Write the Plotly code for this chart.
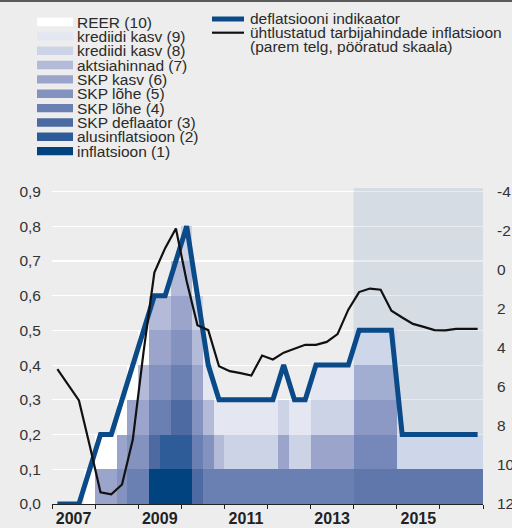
import plotly.graph_objects as go

# ---------------- data ----------------
quarters = ["2007Q1", "2007Q2", "2007Q3", "2007Q4", "2008Q1", "2008Q2", "2008Q3", "2008Q4",
            "2009Q1", "2009Q2", "2009Q3", "2009Q4", "2010Q1", "2010Q2", "2010Q3", "2010Q4",
            "2011Q1", "2011Q2", "2011Q3", "2011Q4", "2012Q1", "2012Q2", "2012Q3", "2012Q4",
            "2013Q1", "2013Q2", "2013Q3", "2013Q4", "2014Q1", "2014Q2", "2014Q3", "2014Q4",
            "2015Q1", "2015Q2", "2015Q3", "2015Q4", "2016Q1", "2016Q2", "2016Q3", "2016Q4"]

indicator_names = ["inflatsioon (1)", "alusinflatsioon (2)", "SKP deflaator (3)", "SKP lõhe (4)",
                   "SKP lõhe (5)", "SKP kasv (6)", "aktsiahinnad (7)", "krediidi kasv (8)",
                   "krediidi kasv (9)", "REER (10)"]
indicator_colors = ["#00437f", "#2e5c98", "#4d6aa2", "#6a80b2", "#8392bf",
                    "#9ba5cb", "#b3bbd8", "#cdd3e6", "#e4e7f1", "#ffffff"]

# signal flags per indicator (1 = signalling), one per quarter
#            2007        2008        2009        2010        2011        2012        2013        2014        2015        2016
sig_1  = [0, 0, 0, 0, 0, 0, 0, 0, 0, 1, 1, 1, 1, 0, 0, 0, 0, 0, 0, 0, 0, 0, 0, 0, 0, 0, 0, 0, 0, 0, 0, 0, 0, 0, 0, 0, 0, 0, 0, 0]
sig_2  = [0, 0, 0, 0, 0, 0, 0, 0, 0, 0, 1, 1, 1, 0, 0, 0, 0, 0, 0, 0, 0, 0, 0, 0, 0, 0, 0, 0, 0, 0, 0, 0, 0, 0, 0, 0, 0, 0, 0, 0]
sig_3  = [0, 0, 0, 0, 0, 0, 0, 0, 0, 1, 0, 1, 1, 1, 0, 0, 0, 0, 0, 0, 0, 0, 0, 0, 0, 0, 0, 0, 0, 0, 0, 0, 0, 0, 0, 0, 0, 0, 0, 0]
sig_4  = [0, 0, 0, 0, 0, 0, 0, 1, 1, 1, 1, 1, 1, 1, 1, 1, 1, 1, 1, 1, 1, 1, 1, 1, 1, 1, 1, 1, 1, 1, 1, 1, 1, 1, 1, 1, 1, 1, 1, 1]
sig_5  = [0, 0, 0, 0, 0, 0, 1, 1, 1, 1, 1, 1, 1, 1, 1, 0, 0, 0, 0, 0, 0, 0, 0, 0, 0, 0, 0, 0, 1, 1, 1, 1, 0, 0, 0, 0, 0, 0, 0, 0]
sig_6  = [0, 0, 0, 0, 1, 1, 1, 1, 1, 1, 1, 1, 1, 1, 0, 0, 0, 0, 0, 0, 0, 1, 0, 0, 1, 1, 1, 1, 1, 1, 1, 1, 0, 0, 0, 0, 0, 0, 0, 0]
sig_7  = [0, 0, 0, 0, 0, 0, 0, 0, 1, 1, 1, 1, 1, 1, 1, 1, 0, 0, 0, 0, 0, 0, 0, 0, 0, 0, 0, 0, 1, 1, 1, 1, 0, 0, 0, 0, 0, 0, 0, 0]
sig_8  = [0, 0, 0, 0, 0, 0, 0, 0, 0, 0, 0, 0, 1, 1, 0, 0, 1, 1, 1, 1, 1, 1, 1, 1, 1, 1, 1, 1, 0, 0, 0, 0, 0, 0, 0, 0, 0, 0, 0, 0]
sig_9  = [0, 0, 0, 0, 0, 0, 0, 0, 0, 0, 0, 0, 0, 0, 1, 1, 1, 1, 1, 1, 1, 0, 1, 1, 1, 1, 1, 1, 1, 1, 1, 1, 1, 1, 1, 1, 1, 1, 1, 1]
sig_10 = [0, 0, 0, 1, 1, 1, 1, 1, 1, 0, 0, 0, 0, 0, 0, 0, 0, 0, 0, 0, 0, 0, 0, 0, 0, 0, 0, 0, 0, 0, 0, 0, 0, 0, 0, 0, 0, 0, 0, 0]
signals = [sig_1, sig_2, sig_3, sig_4, sig_5, sig_6, sig_7, sig_8, sig_9, sig_10]
indicator_share = 0.1  # each signalling indicator = 1/10

deflation_indicator = [0.0, 0.0, 0.0, 0.1, 0.2, 0.2, 0.3, 0.4, 0.5, 0.6, 0.6, 0.7, 0.8, 0.6, 0.4, 0.3,
                       0.3, 0.3, 0.3, 0.3, 0.3, 0.4, 0.3, 0.3, 0.4, 0.4, 0.4, 0.4, 0.5, 0.5, 0.5, 0.5,
                       0.2, 0.2, 0.2, 0.2, 0.2, 0.2, 0.2, 0.2]
hicp_inflation = [5.1, 5.9, 6.7, 9.0, 11.4, 11.5, 11.0, 8.7, 4.2, 0.15, -1.1, -2.1, 0.6, 2.85, 3.1, 4.95,
                  5.2, 5.3, 5.42, 4.4, 4.6, 4.25, 4.05, 3.85, 3.85, 3.7, 3.3, 2.05, 1.15, 0.97, 1.03, 2.1,
                  2.45, 2.78, 2.93, 3.1, 3.11, 3.03, 3.03, 3.03]

year_bounds = [2007, 2008, 2009, 2010, 2011, 2012, 2013, 2014, 2015, 2016, 2017]
year_labels = ["2007", "2009", "2011", "2013", "2015"]
left_ticks = [0.0, 0.1, 0.2, 0.3, 0.4, 0.5, 0.6, 0.7, 0.8, 0.9]
right_ticks = [-4, -2, 0, 2, 4, 6, 8, 10, 12]
shade_period = [2014, 2017]

# ---------------- styling ----------------
BG = "#ecedec"
SHADE = "#d5dce4"
FONT = "Liberation Sans, Arial, sans-serif"
TXT = "#2a2a2a"


def hex_rgb(h):
    h = h.lstrip("#")
    return tuple(int(h[i:i + 2], 16) for i in (0, 2, 4))


bg_rgb, sh_rgb = hex_rgb(BG), hex_rgb(SHADE)
mult = [s / b for s, b in zip(sh_rgb, bg_rgb)]


def shaded(col):
    r = hex_rgb(col)
    return "rgb(%d,%d,%d)" % tuple(round(c * m) for c, m in zip(r, mult))


x = [int(q[:4]) + (int(q[5]) - 1) / 4 + 0.125 for q in quarters]

fig = go.Figure()

for name, flags, col in zip(indicator_names, signals, indicator_colors):
    yv = [indicator_share if f else None for f in flags]
    cols = [shaded(col) if xx >= shade_period[0] else col for xx in x]
    fig.add_trace(go.Bar(x=x, y=yv, width=0.25, name=name,
                         marker=dict(color=cols, line=dict(width=0)),
                         showlegend=False, hoverinfo="skip"))

fig.add_trace(go.Scatter(x=x, y=deflation_indicator, mode="lines", name="deflatsiooni indikaator",
                         line=dict(color="#0b4a88", width=5), showlegend=False))
fig.add_trace(go.Scatter(x=x, y=hicp_inflation, mode="lines", yaxis="y2",
                         name="ühtlustatud tarbijahindade inflatsioon",
                         line=dict(color="#111111", width=2.2), showlegend=False))

L, R, T, B = 52, 29, 188, 24
W, H = 512, 528
pw, ph = W - L - R, H - T - B


def px(v):
    return (v - L) / pw


def py(v):
    return (H - B - v) / ph


shapes = [dict(type="rect", xref="x", yref="y", x0=shade_period[0], x1=shade_period[1],
               y0=0, y1=0.91, fillcolor=SHADE, line=dict(width=0), layer="below"),
          dict(type="rect", xref="x", yref="y", x0=shade_period[0], x1=shade_period[1],
               y0=0, y1=0.91, fillcolor=SHADE, opacity=0.55, line=dict(width=0), layer="between"),
          dict(type="line", xref="paper", yref="paper", x0=px(0), x1=px(W), y0=py(1), y1=py(1),
               line=dict(color="#5a5a5a", width=2))]
annotations = []

# left legend (10 at top -> 1 at bottom)
for k in range(10):
    idx = 9 - k
    yc = 22 + k * 14.35
    shapes.append(dict(type="rect", xref="paper", yref="paper", x0=px(37), x1=px(73),
                       y0=py(yc - 4.2), y1=py(yc + 4.2), fillcolor=indicator_colors[idx],
                       line=dict(width=0)))
    annotations.append(dict(xref="paper", yref="paper", x=px(75), y=py(yc), text=indicator_names[idx],
                            showarrow=False, xanchor="left", yanchor="middle",
                            font=dict(family=FONT, size=15.5, color=TXT)))

# right legend
shapes.append(dict(type="line", xref="paper", yref="paper", x0=px(212), x1=px(244),
                   y0=py(19), y1=py(19), line=dict(color="#0b4a88", width=5)))
shapes.append(dict(type="line", xref="paper", yref="paper", x0=px(212), x1=px(244),
                   y0=py(32.7), y1=py(32.7), line=dict(color="#111111", width=2.2)))
for txt, yc in [("deflatsiooni indikaator", 18.5),
                ("ühtlustatud tarbijahindade inflatsioon", 32.5),
                ("(parem telg, pööratud skaala)", 46.5)]:
    annotations.append(dict(xref="paper", yref="paper", x=px(248), y=py(yc), text=txt,
                            showarrow=False, xanchor="left", yanchor="middle",
                            font=dict(family=FONT, size=15.5, color=TXT)))

fig.update_layout(
    width=W, height=H, margin=dict(l=L, r=R, t=T, b=B, autoexpand=False),
    paper_bgcolor=BG, plot_bgcolor=BG, barmode="stack", bargap=0,
    separators=", ", showlegend=False, hovermode=False,
    font=dict(family=FONT, color=TXT),
    shapes=shapes, annotations=annotations,
    xaxis=dict(range=[2007, 2017], tickvals=[float(y) + 0.5 for y in year_labels], ticktext=year_labels,
               ticks="", showgrid=False, zeroline=False, showline=True, linecolor="#222", linewidth=1,
               tickfont=dict(family=FONT, size=16, color="#222", weight="bold"),
               minor=dict(tickvals=year_bounds, ticks="outside", ticklen=4, tickcolor="#222",
                          tickwidth=1, showgrid=False)),
    yaxis=dict(range=[0, 0.91], tickvals=left_ticks, tickformat=".1f", showgrid=True,
               gridcolor="#ffffff", gridwidth=1.2, zeroline=False, ticks="",
               tickfont=dict(family=FONT, size=15.5, color="#333"), ticklabelstandoff=10),
    yaxis2=dict(overlaying="y", side="right", range=[12, -4.178], tickvals=right_ticks,
                ticktext=[str(v) for v in right_ticks], showgrid=False, zeroline=False, ticks="",
                tickfont=dict(family=FONT, size=15.5, color="#333"), ticklabelstandoff=13),
)

fig.write_html("out.html", config={"displayModeBar": False, "staticPlot": True},
               post_script="document.body.style.margin='0';document.body.style.overflow='hidden';")
